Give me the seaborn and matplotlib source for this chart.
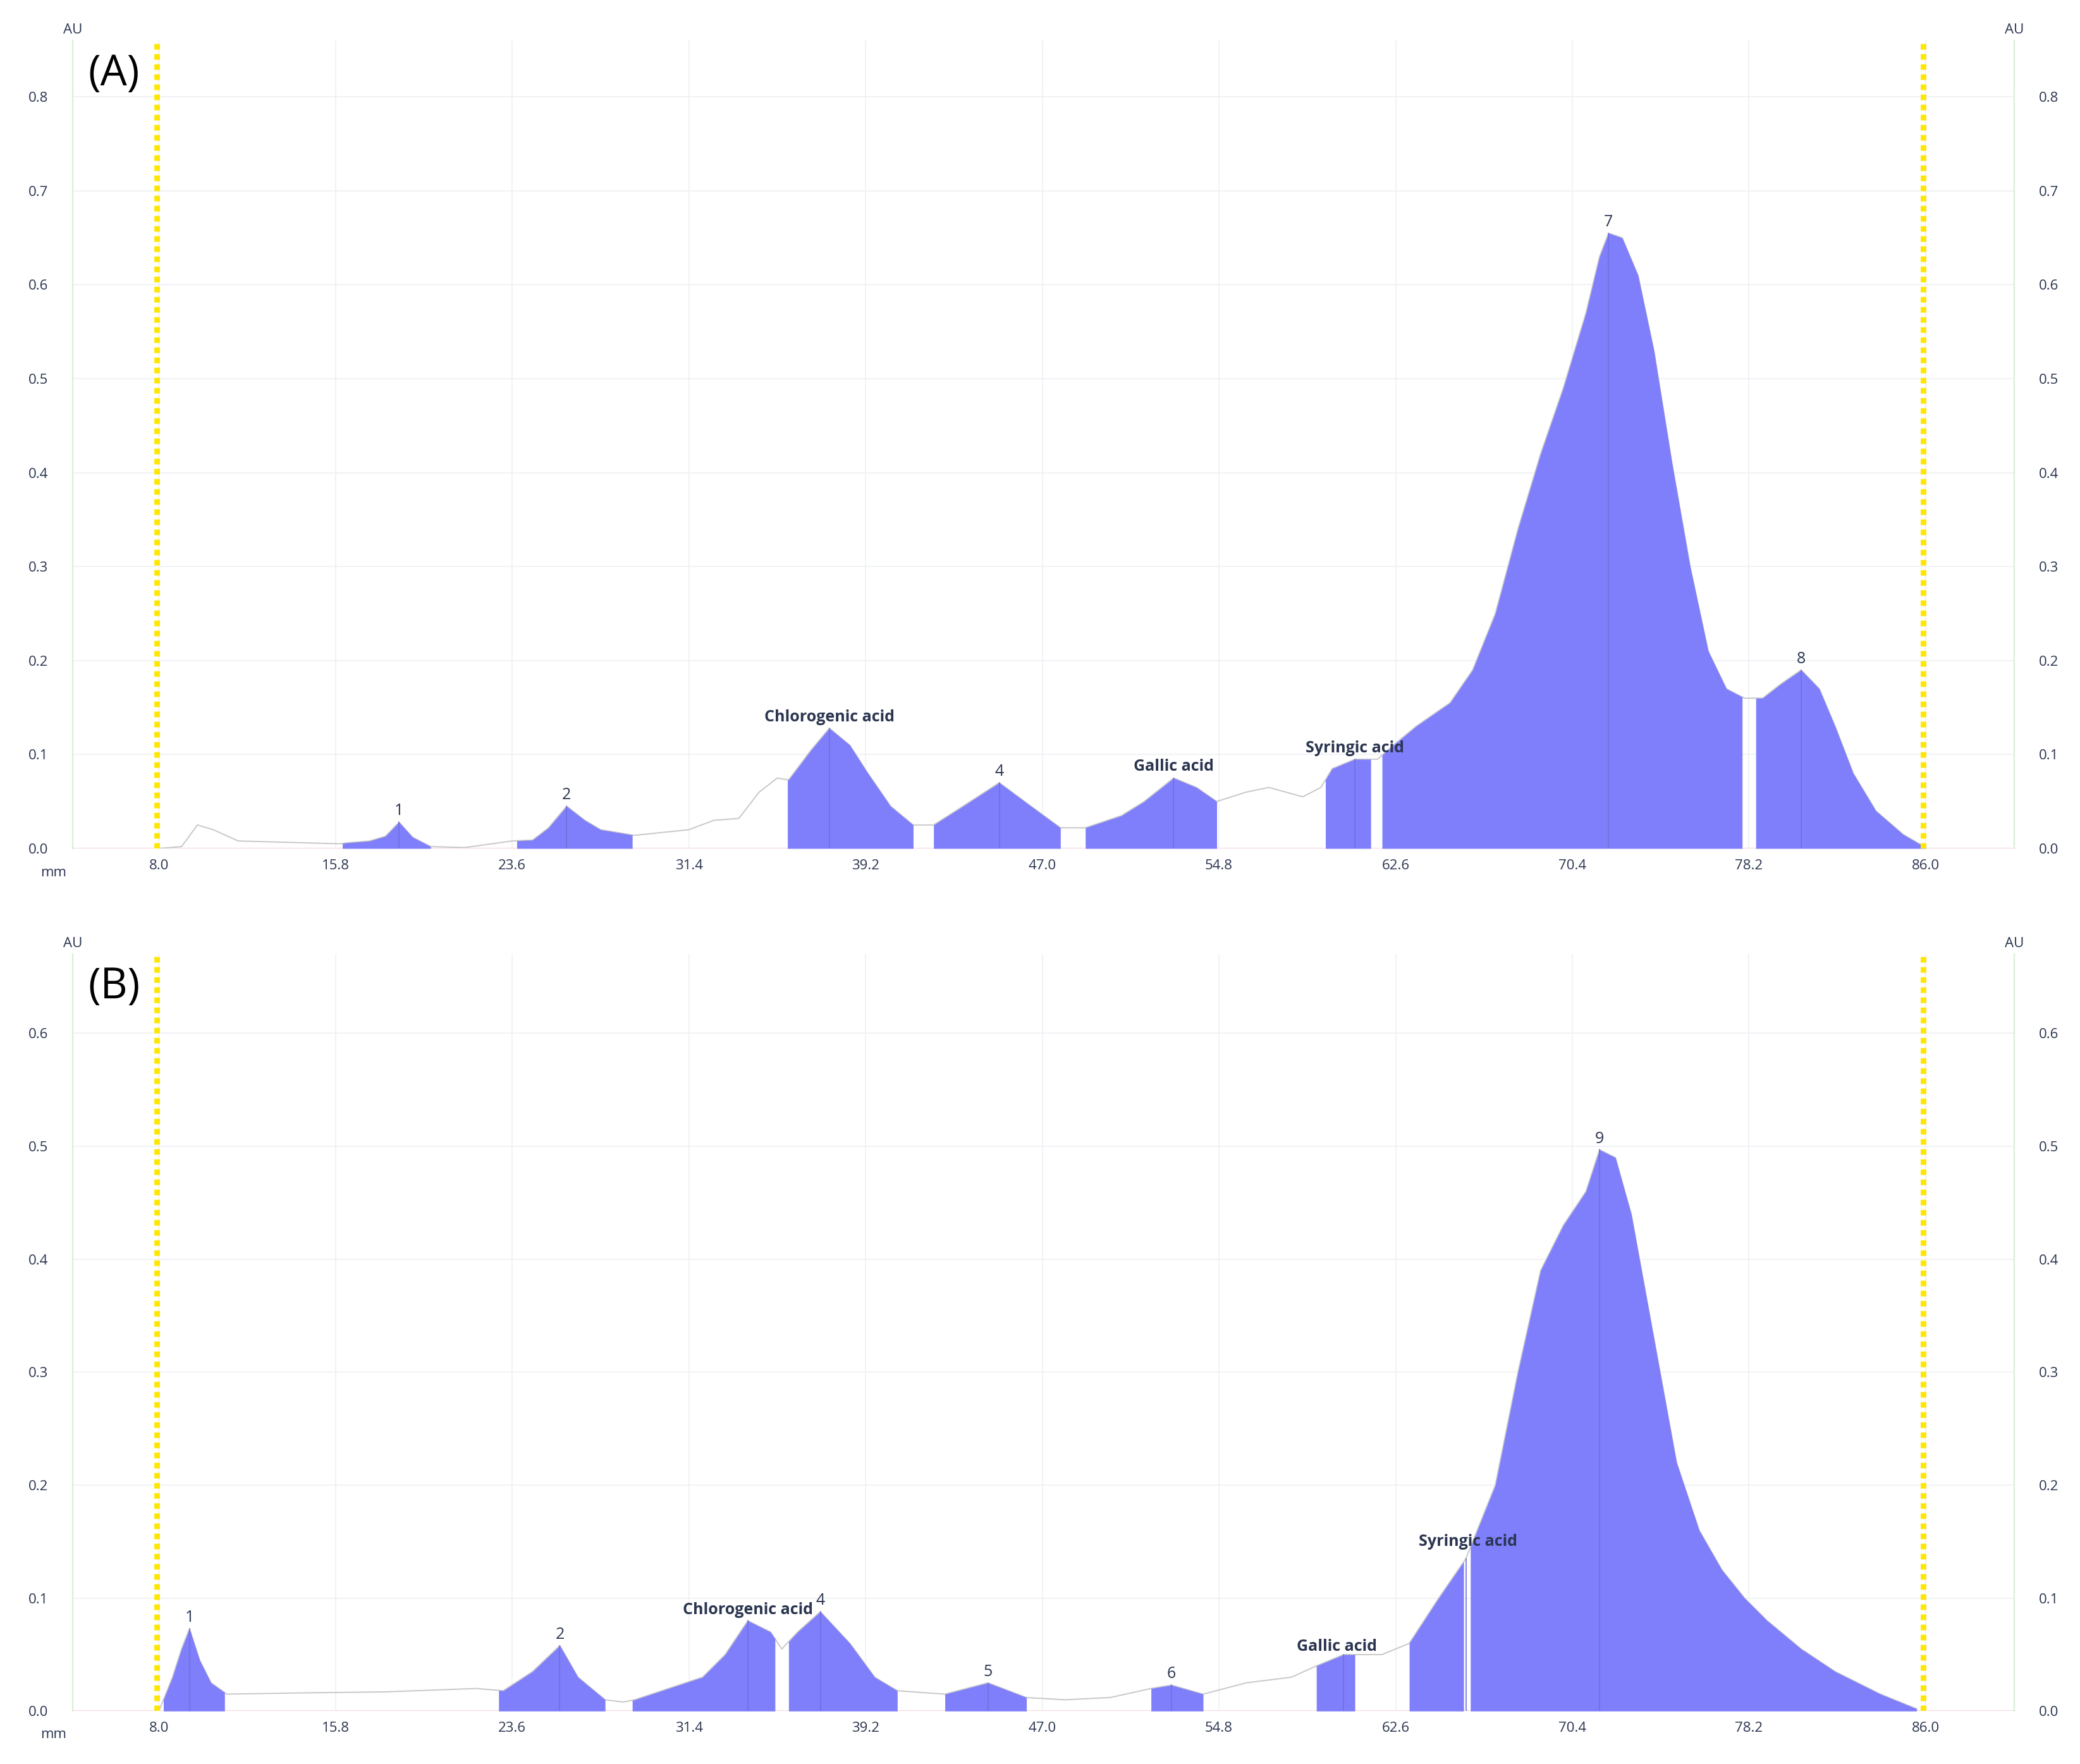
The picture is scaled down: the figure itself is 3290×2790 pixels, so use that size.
import numpy as np
import pandas as pd
import matplotlib
matplotlib.use("Agg")
import matplotlib.pyplot as plt
import seaborn as sns

sns.set_style("white")
plt.rcParams['font.family'] = ['Open Sans', 'DejaVu Sans']

# ---- data: panel A ----
a_x = [8.0, 9.0, 9.7, 10.4, 11.5, 16.0, 16.3, 17.3, 18.0, 18.6, 19.2, 20.0, 21.5, 23.6, 24.5, 25.2, 26.0, 26.8, 27.5,
       29.0, 31.4, 32.5, 33.6, 34.5, 35.3, 35.8, 36.8, 37.6, 38.5, 39.3, 40.3, 41.3, 42.2, 43.5, 45.1, 46.5,
       47.8, 48.9, 50.5, 51.5, 52.8, 53.8, 54.7, 56.0, 57.0, 58.5, 59.3, 59.8, 60.8, 61.8, 62.5, 63.5, 65.0,
       66.0, 67.0, 68.0, 69.0, 70.0, 71.0, 71.6, 72.0, 72.6, 73.3, 74.0, 74.8, 75.6, 76.4, 77.2, 78.0, 78.8, 79.6,
       80.5, 81.3, 82.0, 82.8, 83.8, 85.0, 86.0]
a_y = [0.0, 0.002, 0.025, 0.02, 0.008, 0.005, 0.006, 0.008, 0.013, 0.028, 0.012, 0.002, 0.001, 0.008, 0.009,
       0.022, 0.045, 0.03, 0.02, 0.014, 0.02, 0.03, 0.032, 0.06, 0.075, 0.073, 0.105, 0.128, 0.11, 0.08, 0.045, 0.025,
       0.025, 0.045, 0.07, 0.045, 0.022, 0.022, 0.035, 0.05, 0.075, 0.065, 0.05, 0.06, 0.065, 0.055, 0.065,
       0.085, 0.095, 0.095, 0.11, 0.13, 0.155, 0.19, 0.25, 0.34, 0.42, 0.49, 0.57, 0.63, 0.655, 0.65, 0.61,
       0.53, 0.41, 0.3, 0.21, 0.17, 0.16, 0.16, 0.175, 0.19, 0.17, 0.13, 0.08, 0.04, 0.015, 0.001]
a_regions = [(16.1, 20.0), (23.8, 28.9), (35.75, 41.3), (42.2, 47.8), (48.9, 54.7),
             (59.5, 61.5), (62.0, 77.9), (78.5, 86.0)]
a_labels = ["1", "2", "Chlorogenic acid", "4", "Gallic acid", "Syringic acid", "7", "8"]
a_label_x = [18.6, 26.0, 37.6, 45.1, 52.8, 60.8, 72.0, 80.5]
a_apex = [18.6, 26.0, 37.6, 45.1, 52.8, 60.8, 72.0, 80.5]

# ---- data: panel B ----
b_x = [8.0, 8.6, 9.0, 9.35, 9.8, 10.3, 11.0, 14.0, 18.0, 22.0, 23.2, 24.5, 25.7, 26.5, 27.7, 28.5, 29.0, 30.5,
       32.0, 33.0, 34.0, 35.0, 35.5, 36.2, 37.2, 38.5, 39.6, 40.6, 42.7, 44.6, 46.3, 48.0, 50.0, 51.8, 52.7,
       54.1, 56.0, 58.0, 59.1, 60.3, 61.0, 62.0, 63.2, 64.5, 65.7, 67.0, 68.0, 69.0, 70.0, 71.0, 71.6,
       72.3, 73.0, 74.0, 75.0, 76.0, 77.0, 78.0, 79.0, 80.5, 82.0, 84.0, 85.6]
b_y = [0.0, 0.03, 0.055, 0.073, 0.045, 0.025, 0.015, 0.016, 0.017, 0.02, 0.018, 0.035, 0.058, 0.03, 0.01, 0.008, 0.01,
       0.02, 0.03, 0.05, 0.08, 0.07, 0.055, 0.07, 0.088, 0.06, 0.03, 0.018, 0.015, 0.025, 0.012, 0.01, 0.012,
       0.02, 0.023, 0.015, 0.025, 0.03, 0.04, 0.05, 0.05, 0.05, 0.06, 0.1, 0.135, 0.2, 0.3, 0.39, 0.43,
       0.46, 0.497, 0.49, 0.44, 0.33, 0.22, 0.16, 0.125, 0.1, 0.08, 0.055, 0.035, 0.015, 0.002]
b_regions = [(8.2, 10.9), (23.0, 27.7), (28.9, 35.2), (35.8, 40.6), (42.7, 46.3), (51.8, 54.1),
             (59.1, 60.8), (63.2, 65.6), (65.9, 85.6)]
b_labels = ["1", "2", "Chlorogenic acid", "4", "5", "6", "Gallic acid", "Syringic acid", "9"]
b_label_x = [9.35, 25.7, 34.0, 37.2, 44.6, 52.7, 60.0, 65.8, 71.6]
b_apex = [9.35, 25.7, 34.0, 37.2, 44.6, 52.7, 60.3, 65.7, 71.6]

xticks = [8.0, 15.8, 23.6, 31.4, 39.2, 47.0, 54.8, 62.6, 70.4, 78.2, 86.0]

FILL = "#7f7ffb"
TXT = "#2b3550"

fig = plt.figure(figsize=(16.455, 13.95), dpi=200)
axA = fig.add_axes([0.035, 0.519, 0.933, 0.458])
axB = fig.add_axes([0.035, 0.030, 0.933, 0.429])


def draw(ax, xs, ys, regions, labels, lx, apex, ymax, yticks, tag):
    xs = np.array(xs); ys = np.array(ys)
    df = pd.DataFrame({"mm": xs, "AU": ys})
    ax.set_xlim(4.2, 89.9)
    ax.set_ylim(0, ymax)
    for t in xticks:
        ax.axvline(t, color="#eef0f3", lw=0.6, zorder=0)
    for t in yticks[1:]:
        ax.axhline(t, color="#eef0f3", lw=0.6, zorder=0)
    sns.lineplot(data=df, x="mm", y="AU", ax=ax, color="#c8c8c8", lw=0.7, zorder=2)
    for (r0, r1) in regions:
        gx = np.concatenate([[r0], xs[(xs > r0) & (xs < r1)], [r1]])
        gy = np.interp(gx, xs, ys)
        ax.fill_between(gx, 0, gy, color=FILL, lw=0, zorder=3)
    for a in apex:
        ax.plot([a, a], [0, np.interp(a, xs, ys)], color="#7070e0", lw=0.6, zorder=4)
    for lab, x in zip(labels, lx):
        y = np.interp(x, xs, ys)
        ax.text(x, y + ymax * 0.004, lab, ha="center", va="bottom", fontsize=9,
                fontweight="bold" if len(lab) > 1 else "normal", color=TXT, zorder=6)
    ax.axhline(0, color="#f6d6dc", lw=0.8, zorder=1)
    for xv in (8.0, 86.0):
        ax.plot([xv - 0.1, xv - 0.1], [0, ymax], color="#ffe600", lw=3.2,
                ls=(0, (1, 0.8)), zorder=5)
    ax.set_xticks(xticks)
    ax.set_xticklabels([f"{t:.1f}" for t in xticks])
    ax.set_yticks(yticks)
    ax.set_yticklabels([f"{t:.1f}" for t in yticks])
    ax.tick_params(axis="both", length=0, labelsize=8, labelcolor=TXT, pad=6)
    ax.tick_params(axis="y", pad=14)
    ax.set_xlabel(""); ax.set_ylabel("")
    for s in ("top", "right", "bottom"):
        ax.spines[s].set_visible(False)
    ax.spines["left"].set_color("#d8efd8"); ax.spines["left"].set_linewidth(0.8)
    r = ax.twinx()
    r.set_ylim(0, ymax)
    r.set_yticks(yticks)
    r.set_yticklabels([f"{t:.1f}" for t in yticks])
    r.tick_params(axis="y", length=0, labelsize=8, labelcolor=TXT, pad=14)
    for s in ("top", "left", "bottom"):
        r.spines[s].set_visible(False)
    r.spines["right"].set_color("#d8efd8"); r.spines["right"].set_linewidth(0.8)
    ax.text(0.0, 1.005, "AU", transform=ax.transAxes, fontsize=8, color=TXT, ha="center", va="bottom")
    ax.text(1.0, 1.005, "AU", transform=ax.transAxes, fontsize=8, color=TXT, ha="center", va="bottom")
    ax.text(-0.01, -0.022, "mm", transform=ax.transAxes, fontsize=8, color=TXT, ha="center", va="top")
    ax.text(0.008, 0.985, tag, transform=ax.transAxes, fontsize=24, color="black", ha="left", va="top")


draw(axA, a_x, a_y, a_regions, a_labels, a_label_x, a_apex, 0.86,
     [0.0, 0.1, 0.2, 0.3, 0.4, 0.5, 0.6, 0.7, 0.8], "(A)")
draw(axB, b_x, b_y, b_regions, b_labels, b_label_x, b_apex, 0.67,
     [0.0, 0.1, 0.2, 0.3, 0.4, 0.5, 0.6], "(B)")

fig.savefig("out.png", dpi=200, facecolor="white")
